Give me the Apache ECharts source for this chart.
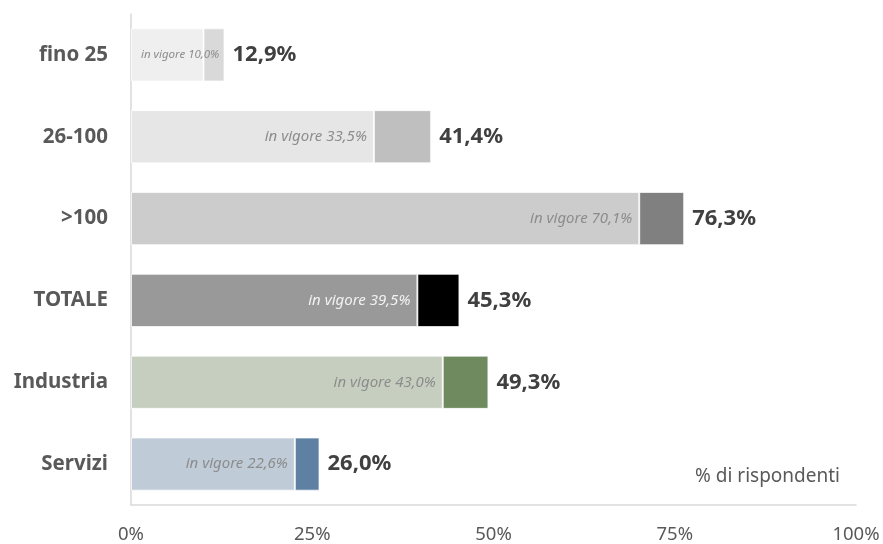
<!DOCTYPE html>
<html>
<head>
	<meta charset="utf-8">
	<title>in vigore</title>
	<script src="https://cdn.jsdelivr.net/npm/echarts@6/dist/echarts.min.js"></script>
	<style>
		html, body { margin:0; padding:0; background:#fff; }
		#box { width:883px; height:544px; }
	</style>
</head>
<body>
	<div id="box"></div>
<script type="text/javascript">
	var categories = ['fino 25', '26-100', '>100', 'TOTALE', 'Industria', 'Servizi'];
	var in_vigore = [10.0, 33.5, 70.1, 39.5, 43.0, 22.6];
	var totale = [12.9, 41.4, 76.3, 45.3, 49.3, 26.0];
	var x_ticks = [0, 25, 50, 75, 100];

	var light_colors = ['#efefef', '#e6e6e6', '#cccccc', '#999999', '#c6cfbf', '#bfcbd7'];
	var dark_colors = ['#d9d9d9', '#bfbfbf', '#808080', '#000000', '#6f8a5f', '#5e80a3'];
	var inner_text = ['#8c8c8c', '#8c8c8c', '#8c8c8c', '#f2f2f2', '#8c8c8c', '#8c8c8c'];

	var font = '"Noto Sans", "Open Sans", sans-serif';

	function fmt(v){
		return v.toFixed(1).replace('.', ',') + '%';
	}

	function $each(arr, fn){
		for(var i = 0; i < arr.length; i++){ fn(i, arr[i]); }
	}

	//primo tratto
	var data1 = [];
	$each(in_vigore, function(i, v){
		var lab = { color: inner_text[i], fontSize: 15 };
		if(i == 0){
			// barra corta: etichetta da sinistra
			lab = { color: inner_text[i], fontSize: 11.5, position: 'insideLeft', offset: [5, 0] };
		}
		data1.push({
			value: v,
			itemStyle: { color: light_colors[i] },
			label: lab
		});
	});

	//secondo tratto
	var data2 = [];
	$each(totale, function(i, v){
		data2.push({
			value: +(v - in_vigore[i]).toFixed(1),
			itemStyle: { color: dark_colors[i] }
		});
	});

	var option = {
		animation: false,
		textStyle: { fontFamily: font },
		grid: { left: 131, right: 27, top: 14, bottom: 39 },
		xAxis: {
			type: 'value',
			min: 0,
			max: 100,
			interval: 25,
			splitLine: { show: false },
			axisLine: { show: true, lineStyle: { color: '#d9d9d9', width: 1.5 } },
			axisTick: { show: false },
			axisLabel: {
				color: '#595959',
				fontSize: 18.5,
				margin: 20,
				formatter: function(v){ return x_ticks.indexOf(v) >= 0 ? v + '%' : ''; }
			}
		},
		yAxis: {
			type: 'category',
			inverse: true,
			data: categories,
			axisLine: { show: true, lineStyle: { color: '#d9d9d9', width: 1.5 } },
			axisTick: { show: false },
			axisLabel: {
				color: '#595959',
				fontSize: 20.5,
				fontWeight: 'bold',
				margin: 23
			}
		},
		series: [
			{
				type: 'bar',
				stack: 'tot',
				barWidth: '65%',
				z: 3,
				data: data1,
				itemStyle: { borderColor: 'rgba(255,255,255,0.7)', borderWidth: 1 },
				label: {
					show: true,
					position: 'insideRight',
					fontStyle: 'italic',
					offset: [-2, 0],
					formatter: function(p){ return 'in vigore ' + fmt(p.value); }
				}
			},
			{
				type: 'bar',
				stack: 'tot',
				z: 2,
				data: data2,
				itemStyle: { borderColor: 'rgba(255,255,255,0.7)', borderWidth: 1 },
				label: {
					show: true,
					position: 'right',
					distance: 8,
					color: '#404040',
					fontSize: 22,
					fontWeight: 'bold',
					formatter: function(p){ return fmt(totale[p.dataIndex]); }
				}
			}
		],
		graphic: [{
			type: 'text',
			right: 43,
			top: 467,
			style: {
				text: '% di rispondenti',
				font: '19px ' + font,
				fill: '#595959'
			}
		}]
	};

	var myChart = echarts.init(document.getElementById('box'));
	myChart.setOption(option);
</script>
</body>
</html>
